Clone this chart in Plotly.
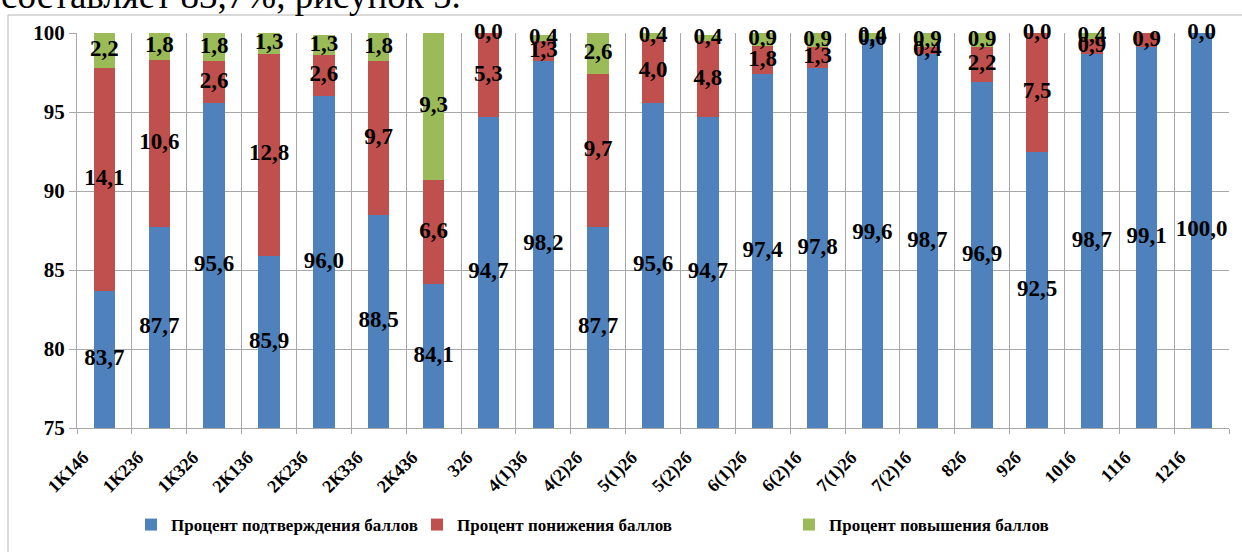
import plotly.graph_objects as go

categories = ["1К14б", "1К23б", "1К32б", "2К13б", "2К23б", "2К33б", "2К43б", "32б",
              "4(1)3б", "4(2)2б", "5(1)2б", "5(2)2б", "6(1)2б", "6(2)1б", "7(1)2б",
              "7(2)1б", "82б", "92б", "101б", "111б", "121б"]
confirmed = [83.7, 87.7, 95.6, 85.9, 96.0, 88.5, 84.1, 94.7, 98.2, 87.7, 95.6,
             94.7, 97.4, 97.8, 99.6, 98.7, 96.9, 92.5, 98.7, 99.1, 100.0]
lowered = [14.1, 10.6, 2.6, 12.8, 2.6, 9.7, 6.6, 5.3, 1.3, 9.7, 4.0,
           4.8, 1.8, 1.3, 0.0, 0.4, 2.2, 7.5, 0.9, 0.9, 0.0]
raised = [2.2, 1.8, 1.8, 1.3, 1.3, 1.8, 9.3, 0.0, 0.4, 2.6, 0.4,
          0.4, 0.9, 0.9, 0.4, 0.9, 0.9, 0.0, 0.4, None, None]
series_names = ["Процент подтверждения баллов", "Процент понижения баллов",
                "Процент повышения баллов"]
colors = ["#4F81BD", "#C0504D", "#9BBB59"]
legend_widths = [241, 327, 230]
y_range = [75, 100]
y_ticks = [75, 80, 85, 90, 95, 100]
doc_text = "составляет 83,7%, рисунок 5."

SERIF = "Liberation Serif, Times New Roman, serif"
W, H = 1242, 552
L, R, T, B = 77, 13, 33, 124


def xp(px):
    return (px - L) / (W - L - R)


def yp(py):
    return (H - B - py) / (H - T - B)


def fmt(v):
    return f"{v:.1f}".replace(".", ",")


fig = go.Figure()
stack = [confirmed, lowered, raised]
for name, vals, col, lw in zip(series_names, stack, colors, legend_widths):
    fig.add_trace(go.Bar(x=categories, y=[0 if v is None else v for v in vals],
                         name=name, marker=dict(color=col, line=dict(width=0)),
                         legendwidth=lw, hoverinfo="skip"))

# data labels, centred in the visible part of each segment
lab_x, lab_y, lab_t = [], [], []
for i, c in enumerate(categories):
    base = 0.0
    for k, vals in enumerate(stack):
        v = vals[i]
        if v is None:
            continue
        lo = max(base, y_range[0])
        hi = min(base + v, y_range[1])
        lab_x.append(c)
        lab_y.append((lo + hi) / 2 if hi >= lo else hi)
        lab_t.append(fmt(v))
        base += v
fig.add_trace(go.Scatter(x=lab_x, y=lab_y, text=lab_t, mode="text",
                         textfont=dict(family=SERIF, size=23, color="black", weight="bold"),
                         cliponaxis=False, showlegend=False, hoverinfo="skip"))

grid = "#a8a8a8"
fig.update_layout(
    width=W, height=H, barmode="stack", bargap=0.61,
    margin=dict(l=L, r=R, t=T, b=B, autoexpand=False),
    paper_bgcolor="white", plot_bgcolor="white",
    font=dict(family=SERIF, color="black"),
    xaxis=dict(type="category", range=[-0.5, len(categories) - 0.5],
               tickson="boundaries", showgrid=True, gridcolor=grid,
               gridwidth=1, ticks="outside", ticklen=5, tickcolor=grid,
               showline=True, linecolor=grid, tickangle=-45,
               tickfont=dict(family=SERIF, size=18, color="black", weight="bold"),
               ticklabelshift=-21, ticklabelstandoff=11),
    yaxis=dict(range=y_range, tickvals=y_ticks, showgrid=True, gridcolor=grid,
               ticks="outside", ticklen=7, tickcolor=grid, showline=True, linecolor=grid,
               zeroline=False,
               tickfont=dict(family=SERIF, size=21, color="black", weight="bold")),
    legend=dict(orientation="h", traceorder="normal", x=xp(131), xanchor="left",
                y=yp(525), yanchor="middle",
                font=dict(family=SERIF, size=17, color="black", weight="bold"),
                bgcolor="rgba(0,0,0,0)"),
    shapes=[
        dict(type="line", xref="paper", yref="paper", x0=xp(8), x1=xp(1260),
             y0=yp(15), y1=yp(15), line=dict(color="#b4b4b4", width=1)),
        dict(type="line", xref="paper", yref="paper", x0=xp(8), x1=xp(8),
             y0=yp(15), y1=yp(570), line=dict(color="#b4b4b4", width=1)),
    ],
    annotations=[
        dict(text=doc_text, xref="paper", yref="paper", x=xp(-1), y=yp(18),
             xanchor="left", yanchor="bottom", showarrow=False,
             font=dict(family=SERIF, size=37, color="black")),
    ],
)

fig.write_html("out.html", config={"displayModeBar": False},
               post_script="document.body.style.margin='0';")
